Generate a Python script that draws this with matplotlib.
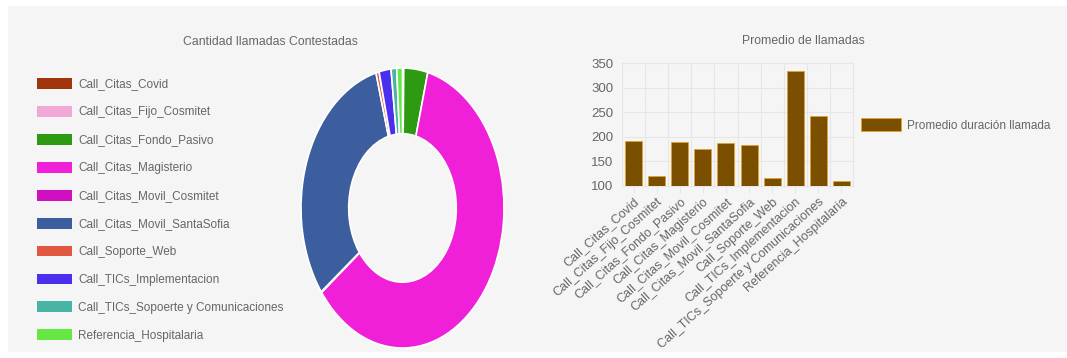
import matplotlib
matplotlib.use("Agg")
from matplotlib import pyplot as plt
from matplotlib.patches import Rectangle, Patch

plt.rcParams['font.family'] = ['Liberation Sans', 'DejaVu Sans']

# donut: cantidad de llamadas contestadas
pie_labels = ["Call_Citas_Covid", "Call_Citas_Fijo_Cosmitet", "Call_Citas_Fondo_Pasivo",
              "Call_Citas_Magisterio", "Call_Citas_Movil_Cosmitet", "Call_Citas_Movil_SantaSofia",
              "Call_Soporte_Web", "Call_TICs_Implementacion", "Call_TICs_Sopoerte y Comunicaciones",
              "Referencia_Hospitalaria"]
pie_values = [12, 8, 380, 6050, 10, 3090, 50, 190, 90, 90]
pie_colors = ["#a0340c", "#f2a8d6", "#2e9a12", "#f020d8", "#d010c0",
              "#3d5e9e", "#e05840", "#4a30ee", "#48b4a4", "#66e844"]

# bars: promedio duracion
bar_labels = pie_labels
bar_values = [191, 121, 189, 176, 187, 184, 117, 333, 242, 110]
bar_name = "Promedio duración llamada"

W, H = 1067, 358
txt = "#666666"

def box(x0, y0, x1, y1):
    # pixel box (top-left origin) -> figure fraction
    return [x0 / W, (H - y1) / H, (x1 - x0) / W, (y1 - y0) / H]

fig = plt.figure(figsize=(W / 100, H / 100), dpi=100, facecolor="white")
fig.patches.append(Rectangle((8 / W, 6 / H), 1 - 8 / W, (H - 12) / H,
                             transform=fig.transFigure, facecolor="#f5f5f5",
                             edgecolor="none", zorder=-10))

# ---- donut
ax1 = fig.add_axes(box(301, 68, 504, 348))
wedges, _ = ax1.pie(pie_values, colors=pie_colors, startangle=90, counterclock=False,
                    radius=1, wedgeprops=dict(width=0.47, edgecolor="white", linewidth=1.2))
ax1.set_aspect('auto')
ax1.set_xlim(-1, 1)
ax1.set_ylim(-1, 1)
ax1.axis("off")

fig.text(270 / W, 1 - 42 / H, "Cantidad llamadas Contestadas", ha="center", va="center",
         fontsize=8.8, color=txt)

handles = [Patch(facecolor=c, edgecolor="none") for c in pie_colors]
fig.legend(handles, pie_labels, loc="upper left", bbox_to_anchor=(32 / W, 1 - 73 / H),
           frameon=False, fontsize=8.5, labelcolor=txt, handlelength=2.95, handleheight=1.05,
           handletextpad=0.55, labelspacing=1.31, borderaxespad=0)

# ---- bars
ax2 = fig.add_axes(box(622, 63, 853, 186))
x = range(len(bar_values))
ax2.bar(x, bar_values, width=0.74, color="#7a5000", edgecolor="#e0a030", linewidth=0.6,
        label=bar_name, zorder=3)
ax2.set_ylim(100, 350)
ax2.set_xlim(-0.5, len(bar_values) - 0.5)
ax2.set_yticks([100, 150, 200, 250, 300, 350])
ax2.set_xticks(list(x))
ax2.set_xticklabels(bar_labels, rotation=42, ha="right", rotation_mode="anchor",
                    fontsize=9, color=txt)
ax2.tick_params(axis="y", labelsize=9.5, colors=txt, length=0, pad=6)
ax2.tick_params(axis="x", length=5, color="#e6e6e6", pad=2)
ax2.set_xticks([i - 0.5 for i in range(len(bar_values) + 1)], minor=True)
ax2.tick_params(axis="x", which="minor", length=0)
ax2.grid(which="minor", axis="x", color="#e6e6e6", linewidth=0.8)
ax2.grid(which="major", axis="y", color="#e6e6e6", linewidth=0.8)
ax2.set_facecolor("#f5f5f5")
for s in ax2.spines.values():
    s.set_color("#e6e6e6")

fig.text(803 / W, 1 - 41 / H, "Promedio de llamadas", ha="center", va="center",
         fontsize=8.8, color=txt)
ax2.legend(loc="center left", bbox_to_anchor=(856 / W, 1 - 125 / H),
           bbox_transform=fig.transFigure, frameon=False, fontsize=8.5, labelcolor=txt,
           handlelength=3.4, handleheight=1.25, handletextpad=0.5, borderaxespad=0)

fig.savefig("out.png", dpi=100, facecolor="white")
